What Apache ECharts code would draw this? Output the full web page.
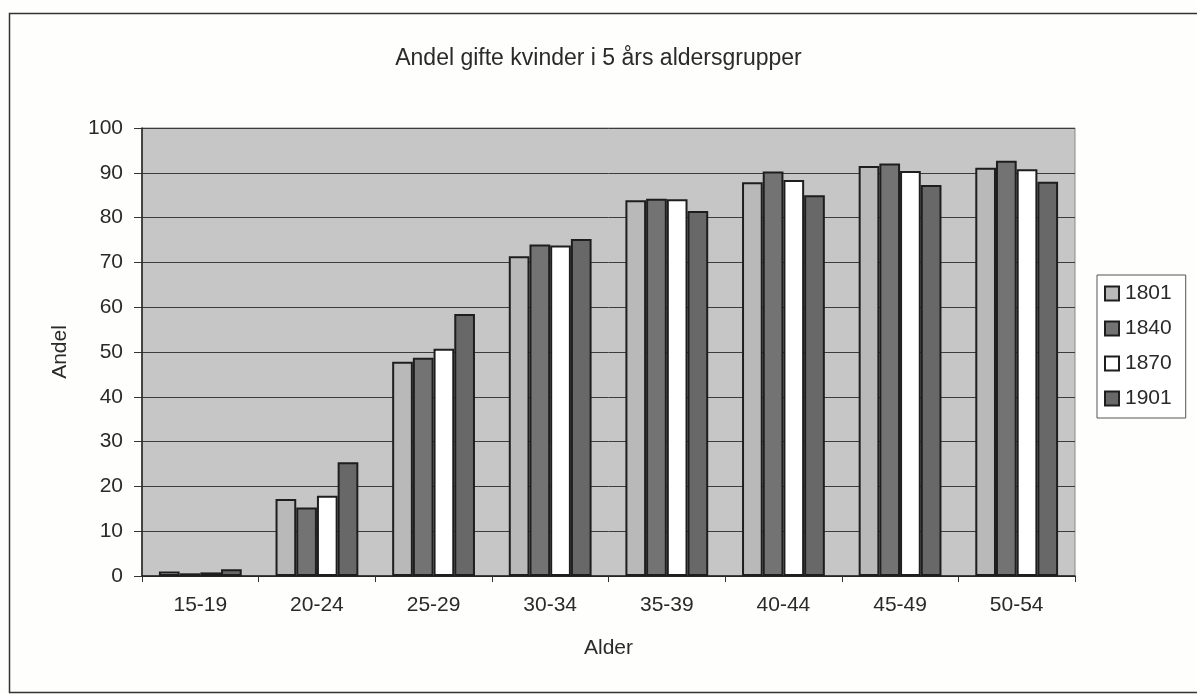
<!DOCTYPE html>
<html>
<head>
<meta charset="utf-8">
<script src="https://cdn.jsdelivr.net/npm/echarts@6/dist/echarts.min.js"></script>
<style>
  html, body { margin: 0; padding: 0; background: #fefefc; }
  #chart { width: 1197px; height: 694px; }
</style>
</head>
<body>
<div id="chart"></div>
<script>
// age groups
const ageGroups = ["15-19", "20-24", "25-29", "30-34", "35-39", "40-44", "45-49", "50-54"];
const yearNames = ["1801", "1840", "1870", "1901"];

// share of married women (%)
const share1801 = [1.0, 17.2, 47.8, 71.4, 83.9, 87.9, 91.5, 91.1];
const share1840 = [0.6, 15.3, 48.7, 74.0, 84.2, 90.3, 92.1, 92.7];
const share1870 = [0.8, 17.9, 50.7, 73.8, 84.1, 88.4, 90.4, 90.8];
const share1901 = [1.5, 25.4, 58.5, 75.2, 81.5, 85.0, 87.3, 88.0];

const yTicks = { min: 0, max: 100, interval: 10 };

const fills = ["#b9b9b9", "#737373", "#ffffff", "#686868"];
const font = "'Liberation Sans', Arial, sans-serif";
const ink = "#2a2a2a";

const chart = echarts.init(document.getElementById("chart"));

function barSeries(name, data, color) {
  return {
    name: name,
    type: "bar",
    data: data,
    barGap: "0%",
    barCategoryGap: "29%",
    itemStyle: {
      color: color,
      borderColor: "#1e1e1e",
      borderWidth: 2,
    },
  };
}

const option = {
  backgroundColor: "#fefefc",
  animation: false,
  textStyle: { fontFamily: font },
  title: {
    text: "Andel gifte kvinder i 5 års aldersgrupper",
    left: "center",
    top: 42,
    textStyle: { fontSize: 23, fontWeight: "normal", color: ink, fontFamily: font },
  },
  graphic: [
    {
      type: "rect",
      shape: { x: 9.5, y: 13.5, width: 1200, height: 679 },
      style: { fill: null, stroke: "#333", lineWidth: 1.5 },
      silent: true,
    },
  ],
  legend: {
    orient: "vertical",
    left: 1097,
    top: 275,
    data: yearNames,
    itemWidth: 14,
    itemHeight: 14,
    itemGap: 14,
    padding: [8, 14, 9, 7],
    backgroundColor: "#ffffff",
    borderColor: "#555",
    borderWidth: 1,
    icon: "rect",
    textStyle: { fontSize: 21, color: ink, fontFamily: font, padding: [0, 0, 0, 1] },
  },
  grid: {
    left: 142,
    right: 122,
    top: 128,
    bottom: 118,
    show: true,
    backgroundColor: "#c6c6c6",
    borderColor: "#8a8a8a",
    borderWidth: 1,
  },
  xAxis: {
    type: "category",
    data: ageGroups,
    name: "Alder",
    nameLocation: "middle",
    nameGap: 62,
    nameTextStyle: { fontSize: 21, color: ink, fontFamily: font },
    axisLine: { lineStyle: { color: "#1e1e1e", width: 1.5 } },
    axisTick: { show: true, length: 6, lineStyle: { color: "#333" } },
    axisLabel: { fontSize: 21, color: ink, margin: 19, fontFamily: font },
  },
  yAxis: {
    type: "value",
    min: yTicks.min,
    max: yTicks.max,
    interval: yTicks.interval,
    name: "Andel",
    nameLocation: "middle",
    nameGap: 71,
    nameTextStyle: { fontSize: 21, color: ink, fontFamily: font },
    axisLine: { show: true, lineStyle: { color: "#1e1e1e", width: 1.5 } },
    axisTick: { show: true, length: 8, lineStyle: { color: "#333" } },
    axisLabel: { fontSize: 21, color: ink, margin: 19, fontFamily: font },
    splitLine: { lineStyle: { color: "#3c3c3c", width: 1 } },
  },
  series: [
    barSeries(yearNames[0], share1801, fills[0]),
    barSeries(yearNames[1], share1840, fills[1]),
    barSeries(yearNames[2], share1870, fills[2]),
    barSeries(yearNames[3], share1901, fills[3]),
  ],
};

chart.setOption(option);
</script>
</body>
</html>
